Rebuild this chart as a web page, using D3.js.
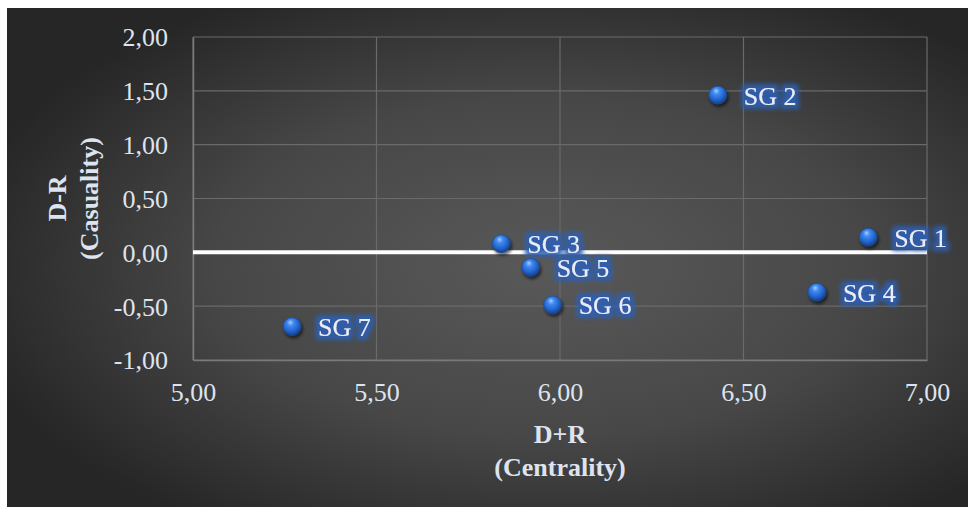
<!DOCTYPE html>
<html>
<head>
<meta charset="utf-8">
<script src="https://cdn.jsdelivr.net/npm/d3@7"></script>
<style>
  html, body { margin: 0; padding: 0; background: #ffffff; }
  svg { display: block; }
</style>
</head>
<body>
<svg id="chart" width="968" height="508"></svg>
<script>
// Sub-group positions on the DEMATEL cause/effect map
const groups = ["SG 1", "SG 2", "SG 3", "SG 4", "SG 5", "SG 6", "SG 7"];
const centrality = [6.84, 6.43, 5.84, 6.70, 5.92, 5.98, 5.27];   // D+R
const causality  = [0.14, 1.46, 0.08, -0.37, -0.14, -0.49, -0.69]; // D-R

// Reference line at D-R = 0
const zeroLineX = [5.0, 7.0];
const zeroLineY = [0, 0];

const xTicks = [5.0, 5.5, 6.0, 6.5, 7.0];
const yTicks = [-1.0, -0.5, 0.0, 0.5, 1.0, 1.5, 2.0];
const xTitle = ["D+R", "(Centrality)"];
const yTitle = ["D-R", "(Casuality)"];

const W = 968, H = 508;
const plot = { left: 193, right: 927, top: 37, bottom: 360 };
const FONT = "'Liberation Serif', 'DejaVu Serif', serif";
const textColor = "#dde4ef";

const svg = d3.select("#chart");
const defs = svg.append("defs");

// Dark radial background
const bg = defs.append("radialGradient")
  .attr("id", "bgGrad")
  .attr("cx", "56%").attr("cy", "52%").attr("r", "62%")
  .attr("fx", "56%").attr("fy", "52%");
bg.append("stop").attr("offset", "0%").attr("stop-color", "#595959");
bg.append("stop").attr("offset", "55%").attr("stop-color", "#474747");
bg.append("stop").attr("offset", "100%").attr("stop-color", "#262626");

// Glossy sphere markers
const sph = defs.append("radialGradient")
  .attr("id", "sphere")
  .attr("cx", "45%").attr("cy", "38%").attr("r", "60%")
  .attr("fx", "40%").attr("fy", "25%");
sph.append("stop").attr("offset", "0%").attr("stop-color", "#a9cdff");
sph.append("stop").attr("offset", "30%").attr("stop-color", "#3f8af0");
sph.append("stop").attr("offset", "75%").attr("stop-color", "#1f5fc8");
sph.append("stop").attr("offset", "100%").attr("stop-color", "#163f86");

const shadow = defs.append("filter").attr("id", "shadow")
  .attr("x", "-50%").attr("y", "-50%").attr("width", "200%").attr("height", "200%");
shadow.append("feGaussianBlur").attr("stdDeviation", 1.6);

// Soft blue glow behind the point labels
const glow = defs.append("filter").attr("id", "glow")
  .attr("x", "-20%").attr("y", "-40%").attr("width", "140%").attr("height", "180%");
glow.append("feMorphology").attr("in", "SourceAlpha").attr("operator", "dilate").attr("radius", 3.5).attr("result", "d");
glow.append("feGaussianBlur").attr("in", "d").attr("stdDeviation", 2).attr("result", "b");
glow.append("feFlood").attr("flood-color", "#2c5fb4").attr("flood-opacity", 0.9).attr("result", "c");
glow.append("feComposite").attr("in", "c").attr("in2", "b").attr("operator", "in").attr("result", "g");
const gm = glow.append("feMerge");
gm.append("feMergeNode").attr("in", "g");
gm.append("feMergeNode").attr("in", "SourceGraphic");

svg.append("rect")
  .attr("x", 7).attr("y", 8).attr("width", W - 7).attr("height", H - 9)
  .attr("fill", "url(#bgGrad)");

const x = d3.scaleLinear().domain([5, 7]).range([plot.left, plot.right]);
const y = d3.scaleLinear().domain([-1, 2]).range([plot.bottom, plot.top]);
const fmt = v => d3.format(".2f")(v).replace(".", ",").replace("−", "-");

// Gridlines
const grid = svg.append("g");
grid.selectAll("line.h").data(yTicks).join("line")
  .attr("x1", plot.left).attr("x2", plot.right)
  .attr("y1", d => y(d)).attr("y2", d => y(d))
  .attr("stroke", "#6a6a6a").attr("stroke-width", 1.2);
grid.selectAll("line.v").data(xTicks).join("line")
  .attr("y1", plot.top).attr("y2", plot.bottom)
  .attr("x1", d => x(d)).attr("x2", d => x(d))
  .attr("stroke", "#6a6a6a").attr("stroke-width", 1.2);

// Axes (tick labels; axis lines sit on the outer gridlines)
const xAxis = svg.append("g")
  .attr("transform", `translate(0,${plot.bottom})`)
  .call(d3.axisBottom(x).tickValues(xTicks).tickFormat(fmt).tickSize(0).tickPadding(23));
const yAxis = svg.append("g")
  .attr("transform", `translate(${plot.left},0)`)
  .call(d3.axisLeft(y).tickValues(yTicks).tickFormat(fmt).tickSize(0).tickPadding(25));
[xAxis, yAxis].forEach(a => {
  a.select(".domain").attr("stroke", "#7a7a7a").attr("stroke-width", 1.5);
  a.selectAll("text")
    .attr("fill", textColor)
    .style("font-family", FONT)
    .style("font-size", "26px");
});
yAxis.selectAll("text").attr("dy", "0.34em");

// Zero reference line
const zeroData = zeroLineX.map((v, i) => [v, zeroLineY[i]]);
svg.append("path")
  .datum(zeroData)
  .attr("d", d3.line().x(d => x(d[0])).y(d => y(d[1])))
  .attr("stroke", "#ffffff").attr("stroke-width", 4).attr("fill", "none");

// Points
const pts = groups.map((g, i) => ({ name: g, cx: centrality[i], cy: causality[i] }));
const pg = svg.append("g");
pg.selectAll("circle.sh").data(pts).join("circle")
  .attr("cx", d => x(d.cx) + 1.5).attr("cy", d => y(d.cy) + 2.5).attr("r", 9.5)
  .attr("fill", "#000").attr("opacity", 0.55).attr("filter", "url(#shadow)");
pg.selectAll("circle.pt").data(pts).join("circle")
  .attr("cx", d => x(d.cx)).attr("cy", d => y(d.cy)).attr("r", 9)
  .attr("fill", "url(#sphere)")
  .attr("stroke", "#1d4f9e").attr("stroke-width", 0.8);

// Point labels
pg.selectAll("text").data(pts).join("text")
  .attr("x", d => x(d.cx) + 26).attr("y", d => y(d.cy))
  .attr("dy", "0.36em")
  .attr("fill", "#e8eef8")
  .attr("filter", "url(#glow)")
  .style("font-family", FONT).style("font-size", "26px")
  .text(d => d.name);

// Axis titles
const xt = svg.append("text")
  .attr("text-anchor", "middle")
  .attr("fill", textColor)
  .style("font-family", FONT).style("font-size", "26px").style("font-weight", "bold");
xt.selectAll("tspan").data(xTitle).join("tspan")
  .attr("x", (plot.left + plot.right) / 2)
  .attr("y", (d, i) => 443 + i * 33)
  .text(d => d);

const yt = svg.append("text")
  .attr("text-anchor", "middle")
  .attr("transform", `translate(0,${(plot.top + plot.bottom) / 2}) rotate(-90)`)
  .attr("fill", textColor)
  .style("font-family", FONT).style("font-size", "26px").style("font-weight", "bold");
yt.selectAll("tspan").data(yTitle).join("tspan")
  .attr("x", 0)
  .attr("y", (d, i) => 66 + i * 32)
  .text(d => d);
</script>
</body>
</html>
